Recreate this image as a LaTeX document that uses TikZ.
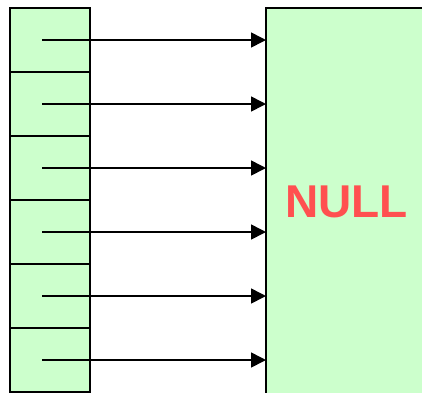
\documentclass[tikz,border=0pt]{standalone}
\usepackage{fontspec}
\setmainfont{Liberation Sans}
\usepackage{xcolor}
\usetikzlibrary{arrows.meta, positioning}
\definecolor{cellgreen}{HTML}{CCFFCC}
\definecolor{nullred}{HTML}{FF5050}

\begin{document}
\begin{tikzpicture}[x=1pt, y=-1pt,
    cell/.style={draw, line width=2pt, fill=cellgreen, minimum width=80pt, minimum height=64pt, inner sep=0pt, outer sep=0pt},
    ptr/.style={line width=1.6pt, -{Triangle[length=15pt, width=15pt]}}]
    \clip (0,0) rectangle (422,392);
    % 指针数组
    \node[cell] (c1) at (50,40) {};
    \foreach \i [remember=\i as \j (initially 1)] in {2,...,6}
        \node[cell, below=0pt of c\j] (c\i) {};
    % NULL
    \node[cell, anchor=north west, minimum width=161pt, minimum height=388pt,
          text=nullred, font=\bfseries\fontsize{46}{46}\selectfont] (null) at (266,8) {NULL};
    % 箭头
    \foreach \i in {1,...,6}
        \draw[ptr] ([xshift=-8pt]c\i.center) -- (null.west |- c\i.center);
\end{tikzpicture}
\end{document}
